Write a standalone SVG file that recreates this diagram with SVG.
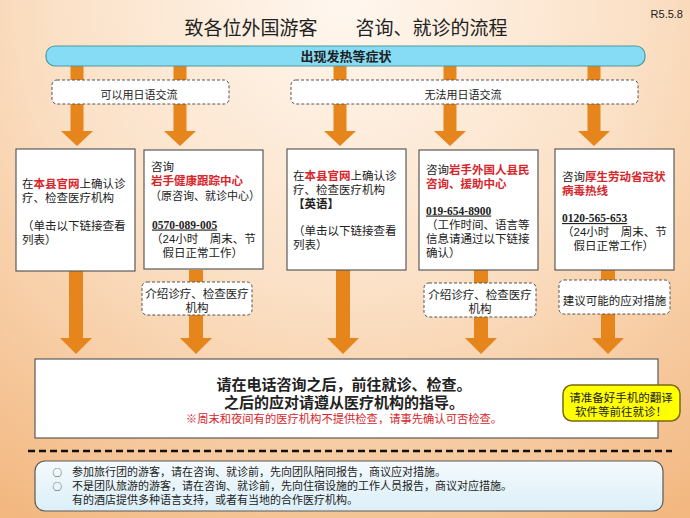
<svg xmlns="http://www.w3.org/2000/svg" width="690" height="518" viewBox="0 0 690 518">
<defs>
<radialGradient id="bg" gradientUnits="userSpaceOnUse" cx="345" cy="0" r="640">
<stop offset="0" stop-color="#fff7ef"/>
<stop offset="0.45" stop-color="#fbe1c7"/>
<stop offset="1" stop-color="#f2b47a"/>
</radialGradient>
<linearGradient id="note" x1="0" y1="0" x2="0" y2="1">
<stop offset="0" stop-color="#f4fafd"/>
<stop offset="1" stop-color="#dbeff8"/>
</linearGradient>
<style>
text{font-family:"Liberation Sans","Noto Sans CJK SC",sans-serif;fill:#222;}
.t{font-size:11.5px;}
.red{fill:#d7262b;font-weight:700;}
.tel{font-family:"Liberation Serif","Noto Sans CJK SC",serif;font-weight:700;font-size:11.5px;text-decoration:underline;}
.box{fill:#fff;stroke:#5a5a5a;stroke-width:1.2;}
.dash{fill:#fff;stroke:#555;stroke-width:1;stroke-dasharray:3 2;}
.arr{fill:#e5851b;}
.mid{text-anchor:middle;}
.bul{font-family:"Noto Sans CJK SC",sans-serif;font-size:9.5px;}
</style>
</defs>
<rect x="0" y="0" width="690" height="518" fill="url(#bg)"/>
<text x="683" y="18" style="font-size:11px;text-anchor:end">R5.5.8</text>
<text x="346" y="35" class="mid" style="font-family:'Noto Sans CJK SC',sans-serif;font-size:19px">致各位外国游客　　咨询、就诊的流程</text>

<g id="connectors">
<path class="arr" d="M70.5 66H83.5V131H93L77 146L61 131H70.5Z"/>
<path class="arr" d="M173.5 66H186.5V131H196L180 146L164 131H173.5Z"/>
<path class="arr" d="M333.5 66H346.5V131H356L340 146L324 131H333.5Z"/>
<path class="arr" d="M443.5 66H456.5V131H466L450 146L434 131H443.5Z"/>
<path class="arr" d="M587.5 66H600.5V131H610L594 146L578 131H587.5Z"/>
<path class="arr" d="M69 270H83V338H92L76 354L60 338H69Z"/>
<path class="arr" d="M189 270H203V338H212L196 354L180 338H189Z"/>
<path class="arr" d="M336 270H350V338H359L343 354L327 338H336Z"/>
<path class="arr" d="M474 270H488V338H497L481 354L465 338H474Z"/>
<path class="arr" d="M601 270H615V338H624L608 354L592 338H601Z"/>
</g>

<g id="symptom">
<rect x="46" y="46" width="599" height="20" rx="9" fill="#86dcf5" stroke="#4c9c9a" stroke-width="1.2"/>
<text x="346" y="61" class="mid" style="font-size:13px;font-weight:700">出现发热等症状</text>
</g>
<g id="japanese-ok">
<rect class="dash" x="52" y="80" width="177" height="24" rx="5"/>
<text x="139" y="99" class="mid" style="font-size:11px">可以用日语交流</text>
</g>
<g id="japanese-ng">
<rect class="dash" x="291" y="80" width="347" height="24" rx="5"/>
<text x="463" y="99" class="mid" style="font-size:11px">无法用日语交流</text>
</g>

<g id="box1">
<rect class="box" x="16" y="149" width="119" height="122"/>
<text class="t" x="22" y="187.5">在<tspan class="red">本县官网</tspan>上确认诊</text>
<text class="t" x="22" y="201.5">疗、检查医疗机构</text>
<text class="t" x="22" y="229.5">（单击以下链接查看</text>
<text class="t" x="22" y="243.5">列表）</text>
</g>
<g id="box2">
<rect class="box" x="144" y="150" width="119" height="119"/>
<text class="t" x="151" y="170.5">咨询</text>
<text class="t red" x="151" y="185">岩手健康跟踪中心</text>
<text class="t" x="150" y="199.5" textLength="110" lengthAdjust="spacingAndGlyphs">（原咨询、就诊中心）</text>
<text class="tel" x="152" y="228.5">0570-089-005</text>
<text class="t" x="151" y="242.5">（24小时　周末、节</text>
<text class="t" x="151" y="256.5">　假日正常工作）</text>
</g>
<g id="box3">
<rect class="box" x="287" y="149" width="119" height="121"/>
<text class="t" x="293" y="179.5">在<tspan class="red">本县官网</tspan>上确认诊</text>
<text class="t" x="293" y="193.5">疗、检查医疗机构</text>
<text class="t" x="293" y="207.5" style="font-weight:700">【英语】</text>
<text class="t" x="293" y="234.5">（单击以下链接查看</text>
<text class="t" x="293" y="248.5">列表）</text>
</g>
<g id="box4">
<rect class="box" x="419" y="150" width="119" height="120"/>
<text class="t" x="426" y="174">咨询<tspan class="red">岩手外国人县民</tspan></text>
<text class="t red" x="426" y="188">咨询、援助中心</text>
<text class="tel" x="426" y="214.5">019-654-8900</text>
<text class="t" x="426" y="228.5">（工作时间、语言等</text>
<text class="t" x="426" y="242.5">信息请通过以下链接</text>
<text class="t" x="426" y="256.5">确认）</text>
</g>
<g id="box5">
<rect class="box" x="555" y="149" width="119" height="121"/>
<text class="t" x="562" y="180.5">咨询<tspan class="red">厚生劳动省冠状</tspan></text>
<text class="t red" x="562" y="194.5">病毒热线</text>
<text class="tel" x="562" y="222">0120-565-653</text>
<text class="t" x="562" y="236">（24小时　周末、节</text>
<text class="t" x="562" y="250">　假日正常工作）</text>
</g>

<g id="label2">
<rect class="dash" x="142" y="282" width="110" height="33" rx="5"/>
<text class="t mid" x="197" y="297.5">介绍诊疗、检查医疗</text>
<text class="t mid" x="197" y="311.5">机构</text>
</g>
<g id="label4">
<rect class="dash" x="424" y="283" width="112" height="34" rx="5"/>
<text class="t mid" x="480" y="298.5">介绍诊疗、检查医疗</text>
<text class="t mid" x="480" y="312.5">机构</text>
</g>
<g id="label5">
<rect class="dash" x="559" y="280" width="111" height="34" rx="5"/>
<text class="t mid" x="614.5" y="304.5">建议可能的应对措施</text>
</g>

<g id="result">
<rect class="box" x="35" y="359" width="623" height="79"/>
<text class="mid" x="344" y="390" style="font-size:15px;font-weight:700">请在电话咨询之后，前往就诊、检查。</text>
<text class="mid" x="344" y="408" style="font-size:15px;font-weight:700">之后的应对请遵从医疗机构的指导。</text>
<text class="mid" x="344" y="422.5" style="font-size:11.3px;fill:#d7262b">※周末和夜间有的医疗机构不提供检查，请事先确认可否检查。</text>
</g>
<g id="callout">
<rect x="563" y="385" width="117" height="36" rx="9" fill="#ffff00" stroke="#7a6a10" stroke-width="1.5"/>
<text class="mid" x="621" y="402" style="font-size:11.5px">请准备好手机的翻译</text>
<text class="mid" x="621" y="415.5" style="font-size:11.5px">软件等前往就诊！</text>
</g>

<line x1="28" y1="451" x2="672" y2="451" stroke="#111" stroke-width="2.5" stroke-dasharray="7 4"/>

<g id="note-box">
<rect x="35" y="461" width="628" height="50" rx="10" fill="url(#note)" stroke="#5a5a5a" stroke-width="1.2"/>
<text class="bul" x="52.5" y="475.5">○</text>
<text x="72" y="476" style="font-size:11px">参加旅行团的游客，请在咨询、就诊前，先向团队陪同报告，商议应对措施。</text>
<text class="bul" x="52.5" y="489.5">○</text>
<text x="72" y="490" style="font-size:11px">不是团队旅游的游客，请在咨询、就诊前，先向住宿设施的工作人员报告，商议对应措施。</text>
<text x="72" y="503.5" style="font-size:11px">有的酒店提供多种语言支持，或者有当地的合作医疗机构。</text>
</g>
</svg>
